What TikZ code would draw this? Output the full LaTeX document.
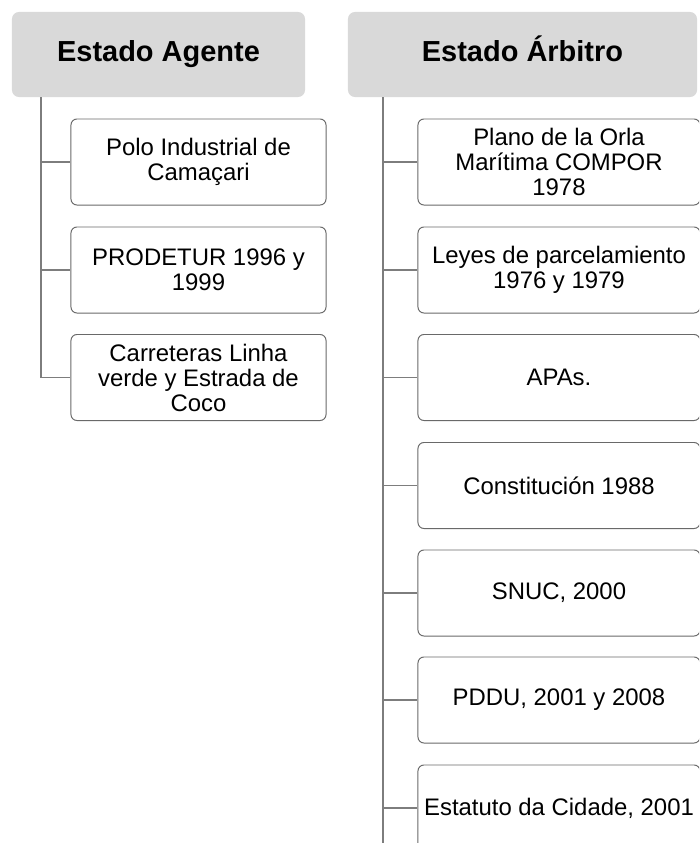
\documentclass[tikz,border=0pt]{standalone}
\usepackage{fontspec}
\setmainfont{Liberation Sans}
\usepackage{tikz}
\definecolor{lgray}{RGB}{217, 217, 217}
\definecolor{dgray}{RGB}{105, 105, 105}
\definecolor{mgray}{RGB}{125, 125, 125}

\tikzset{
	head/.style = {rounded corners = 0.175cm, fill = lgray, minimum height = 2.125cm, text height = 2.2ex, text depth = 0.45ex, font = \fontsize{20.6}{24}\selectfont\bfseries},
	item/.style = {rounded corners = 0.15cm, draw = dgray, line width = 0.7pt, fill = white, minimum height = 2.15cm, align = center, font = \fontsize{17}{17.8}\selectfont},
	link/.style = {draw = mgray, line width = 0.8pt}
}

\begin{document}
\begin{tikzpicture}[x = 0.025cm, y = -0.025cm]
			\useasboundingbox (0,0) rectangle (699,843);
			\clip (0,0) rectangle (699,843);
			% headers
			\node (ha) at (158.5,54.5) [head, minimum width = 7.325cm] {Estado Agente};
			\node (hb) at (522.5,54.5) [head, minimum width = 8.725cm] {Estado Árbitro};
			% left column
			\node (a1) at (198.5,162) [item, minimum width = 6.375cm] {Polo Industrial de\\Camaçari};
			\node (a2) at (198.5,270) [item, minimum width = 6.375cm] {PRODETUR 1996 y\\1999};
			\node (a3) at (198.5,377.5) [item, minimum width = 6.375cm] {Carreteras Linha\\verde y Estrada de\\Coco};
			% right column
			\node (b1) at (559,162) [item, minimum width = 7.05cm] {Plano de la Orla\\Marítima COMPOR\\1978};
			\node (b2) at (559,270) [item, minimum width = 7.05cm] {Leyes de parcelamiento\\1976 y 1979};
			\node (b3) at (559,377.5) [item, minimum width = 7.05cm] {APAs.};
			\node (b4) at (559,485.5) [item, minimum width = 7.05cm] {Constitución 1988};
			\node (b5) at (559,593) [item, minimum width = 7.05cm] {SNUC, 2000};
			\node (b6) at (559,700) [item, minimum width = 7.05cm] {PDDU, 2001 y 2008};
			\node (b7) at (559,808) [item, minimum width = 7.05cm] {Estatuto da Cidade, 2001};
			% spines
			\coordinate (sa) at (41,97);
			\coordinate (sb) at (383,97);
			\coordinate (se) at (383,850);
			\draw [link] (sa) |- (a3.west);
			\draw [link] (sa |- a1.west) -- (a1.west);
			\draw [link] (sa |- a2.west) -- (a2.west);
			\draw [link] (sb) -- (se);
			\foreach \n in {b1,b2,b3,b4,b5,b6,b7}
				\draw [link] (sb |- \n.west) -- (\n.west);
\end{tikzpicture}
\end{document}
